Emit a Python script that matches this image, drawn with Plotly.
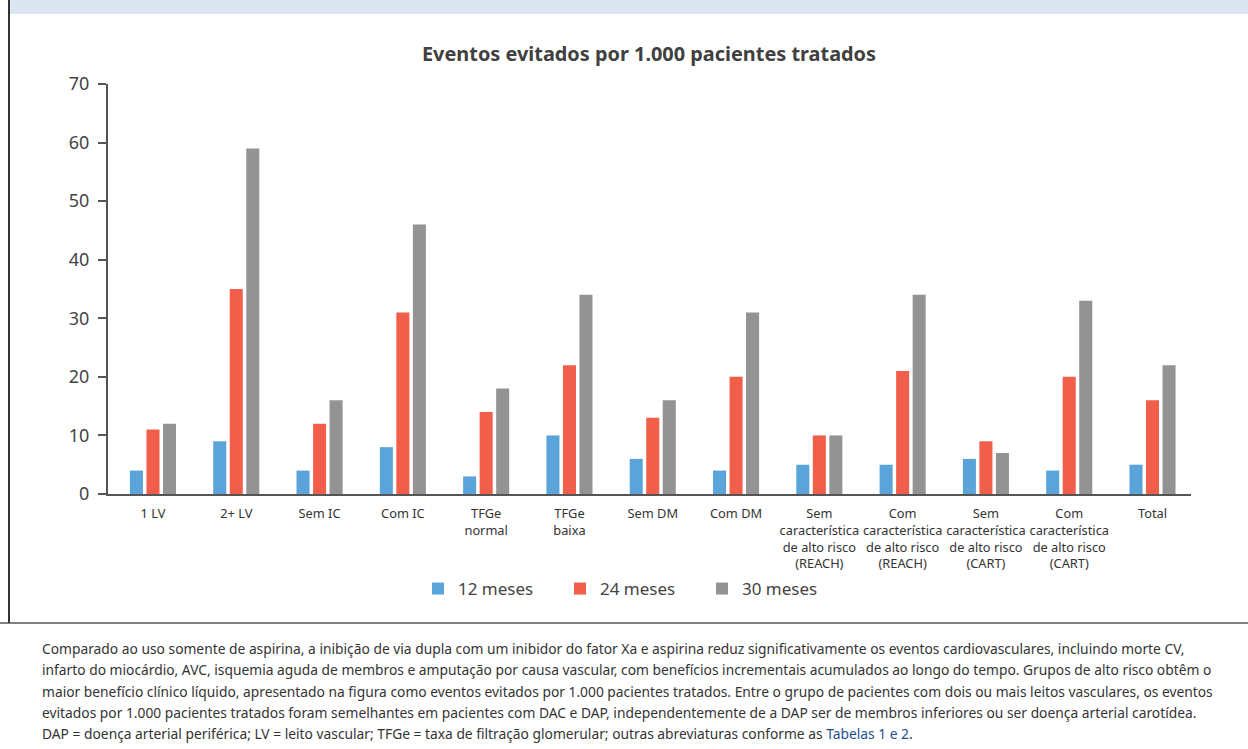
import plotly.graph_objects as go

# Subgroups shown on the x axis
categories = [
    "1 LV", "2+ LV", "Sem IC", "Com IC", "TFGe<br>normal", "TFGe<br>baixa",
    "Sem DM", "Com DM",
    "Sem<br>característica<br>de alto risco<br>(REACH)",
    "Com<br>característica<br>de alto risco<br>(REACH)",
    "Sem<br>característica<br>de alto risco<br>(CART)",
    "Com<br>característica<br>de alto risco<br>(CART)",
    "Total",
]

# Events avoided per 1,000 treated patients, by follow-up time
meses_12 = [4, 9, 4, 8, 3, 10, 6, 4, 5, 5, 6, 4, 5]
meses_24 = [11, 35, 12, 31, 14, 22, 13, 20, 10, 21, 9, 20, 16]
meses_30 = [12, 59, 16, 46, 18, 34, 16, 31, 10, 34, 7, 33, 22]

series_names = ["12 meses", "24 meses", "30 meses"]
series_colors = ["#5ba4da", "#f15f4a", "#939394"]

caption_lines = [
    "Comparado ao uso somente de aspirina, a inibição de via dupla com um inibidor do fator Xa e aspirina reduz significativamente os eventos cardiovasculares, incluindo morte CV,",
    "infarto do miocárdio, AVC, isquemia aguda de membros e amputação por causa vascular, com benefícios incrementais acumulados ao longo do tempo. Grupos de alto risco obtêm o",
    "maior benefício clínico líquido, apresentado na figura como eventos evitados por 1.000 pacientes tratados. Entre o grupo de pacientes com dois ou mais leitos vasculares, os eventos",
    "evitados por 1.000 pacientes tratados foram semelhantes em pacientes com DAC e DAP, independentemente de a DAP ser de membros inferiores ou ser doença arterial carotídea.",
    "DAP = doença arterial periférica; LV = leito vascular; TFGe = taxa de filtração glomerular; outras abreviaturas conforme as <span style='color:#1f4f8f'>Tabelas 1 e 2</span>.",
]

W, H = 1248, 749
L, R, T, B = 108, 1191, 84, 494  # plot area in pixels


def px_x(x):
    return (x - L) / (R - L)


def px_y(y):
    return (B - y) / (B - T)


FONT = "Noto Sans"
TXT = "#3d3d3d"

fig = go.Figure()
for name, vals, col in zip(series_names, [meses_12, meses_24, meses_30], series_colors):
    fig.add_trace(go.Bar(x=categories, y=vals, name=name, marker_color=col,
                         marker_line_width=0, hoverinfo="y"))

shapes = [
    # light header strip
    dict(type="rect", xref="paper", yref="paper", x0=px_x(10), x1=px_x(W), y0=px_y(0), y1=px_y(14),
         fillcolor="#dce6f2", line_width=0, layer="below"),
    # left frame line
    dict(type="line", xref="paper", yref="paper", x0=px_x(9), x1=px_x(9), y0=px_y(0), y1=px_y(623),
         line=dict(color="#333333", width=2)),
    # separator above the caption
    dict(type="line", xref="paper", yref="paper", x0=px_x(0), x1=px_x(W), y0=px_y(623), y1=px_y(623),
         line=dict(color="#555555", width=1.5)),
]

annotations = []
cap_y = [648, 669.5, 691, 712, 733]
for line, yy in zip(caption_lines, cap_y):
    annotations.append(dict(text=line, xref="paper", yref="paper", x=px_x(40), y=px_y(yy),
                            xanchor="left", yanchor="middle", showarrow=False,
                            font=dict(family=FONT, size=13.8, color="#333333")))

fig.update_layout(
    width=W, height=H,
    margin=dict(l=L, r=W - R, t=T, b=H - B, pad=0),
    paper_bgcolor="white", plot_bgcolor="white",
    font=dict(family=FONT, color=TXT),
    title=dict(text="<b>Eventos evitados por 1.000 pacientes tratados</b>",
               x=px_x(649), xref="paper", xanchor="center",
               y=1 - 54 / H, yanchor="middle",
               font=dict(family=FONT, size=19.9, color="#404040")),
    barmode="group", bargap=0.405, bargroupgap=0.21,
    xaxis=dict(showgrid=False, showline=True, linecolor="#555555", linewidth=2,
               ticks="", ticklabelstandoff=7,
               tickfont=dict(family=FONT, size=12.8, color="#333333"),
               range=[-0.54, 12.462], fixedrange=True),
    yaxis=dict(range=[0, 70], dtick=10, showgrid=False, zeroline=False,
               showline=True, linecolor="#555555", linewidth=2,
               ticks="outside", ticklen=8, tickcolor="#555555", tickwidth=2,
               ticklabelstandoff=5,
               tickfont=dict(family=FONT, size=18, color="#444444")),
    legend=dict(orientation="h", x=px_x(418), xanchor="left", y=px_y(589), yanchor="middle",
                font=dict(family=FONT, size=17, color="#444444"),
                entrywidth=97, entrywidthmode="pixels", traceorder="normal"),
    shapes=shapes,
    annotations=annotations,
)

fig.write_html("out.html")
